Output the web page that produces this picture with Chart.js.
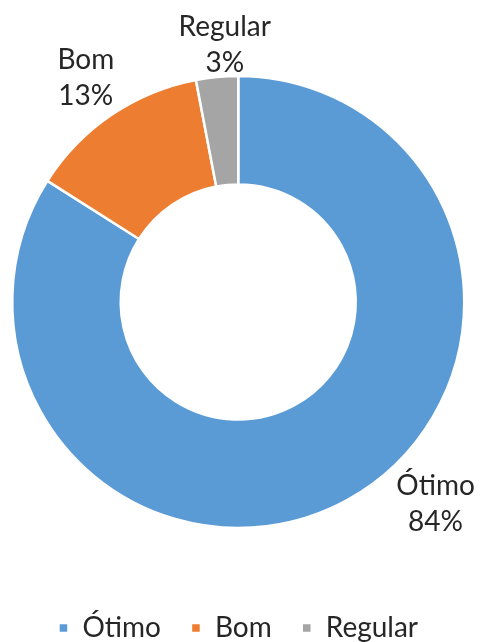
<!DOCTYPE html>
<html>
<head>
<meta charset="utf-8">
<script src="https://cdn.jsdelivr.net/npm/chart.js@4"></script>
<style>
    html, body { margin: 0; padding: 0; background: #fff; }
    #wrap { width: 480px; height: 642px; }
</style>
</head>
<body>
<div id="wrap"><canvas id="quality"></canvas></div>
<script>
const categories = ['Ótimo', 'Bom', 'Regular'];
const shares = [84, 13, 3];
const sliceColors = ['#5B9BD5', '#ED7D31', '#A5A5A5'];

// where each outside label sits: angle clockwise from 12 o'clock (null = slice middle), distance in radii
const labelSpots = [
    { angle: 135.7, dist: 1.25 },
    { angle: null, dist: 1.2 },
    { angle: 357, dist: 1.14 },
];

const outsideLabels = {
    id: 'outsideLabels',
    afterDatasetsDraw(chart) {
        let ctx = chart.ctx;
        let arcs = chart.getDatasetMeta(0).data;
        ctx.save();
        ctx.font = '28px Lato';
        ctx.fillStyle = '#262626';
        ctx.textAlign = 'center';
        ctx.textBaseline = 'middle';
        arcs.forEach((arc, i) => {
            let p = arc.getProps(['x', 'y', 'startAngle', 'endAngle', 'outerRadius'], true);
            let spot = labelSpots[i];
            let a = spot.angle === null
                ? (p.startAngle + p.endAngle) / 2
                : (spot.angle - 90) * Math.PI / 180;
            let r = p.outerRadius * spot.dist;
            let cx = p.x + Math.cos(a) * r;
            let cy = p.y + Math.sin(a) * r;
            ctx.fillText(categories[i], cx, cy - 18);
            ctx.fillText(shares[i] + '%', cx, cy + 18);
        });
        ctx.restore();
    }
};

// legend keeps wide gaps between items but sits lower, so trim its box height
const legendTrim = {
    id: 'legendTrim',
    beforeInit(chart) {
        let fit = chart.legend.fit;
        chart.legend.fit = function () {
            fit.call(this);
            this.height -= 10;
        };
    }
};

let canvas = document.getElementById('quality');
let chart = new Chart(canvas, {
    type: 'doughnut',
    data: {
        labels: categories,
        datasets: [
            {
                data: shares,
                backgroundColor: sliceColors,
                borderColor: '#fff',
                borderWidth: 2.5,
            }
        ],
    },
    options: {
        responsive: true,
        maintainAspectRatio: false,
        animation: false,
        cutout: '52%',
        layout: {
            padding: { top: 20, left: 11, right: 14.5, bottom: 0 },
        },
        plugins: {
            legend: {
                position: 'bottom',
                labels: {
                    font: { family: 'Lato', size: 28 },
                    color: '#262626',
                    boxWidth: 10,
                    boxHeight: 10,
                    padding: 30,
                },
            },
            tooltip: { enabled: false },
        },
    },
    plugins: [outsideLabels, legendTrim],
});
</script>
</body>
</html>
